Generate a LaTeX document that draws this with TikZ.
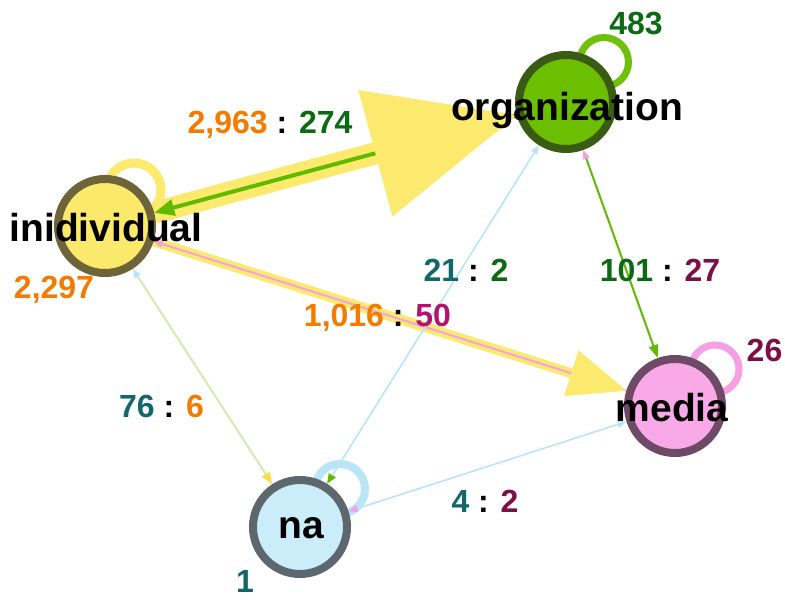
\documentclass[tikz,border=0pt]{standalone}
\usepackage{fontspec}
\setmainfont{Liberation Sans}
\usetikzlibrary{arrows.meta,calc,backgrounds}
\definecolor{indfill}{RGB}{251,233,108}
\definecolor{inddraw}{RGB}{110,100,58}
\definecolor{orgfill}{RGB}{108,190,0}
\definecolor{orgdraw}{RGB}{58,92,18}
\definecolor{medfill}{RGB}{249,169,232}
\definecolor{meddraw}{RGB}{110,74,102}
\definecolor{nafill}{RGB}{203,237,249}
\definecolor{nadraw}{RGB}{92,104,110}
\definecolor{yel}{RGB}{252,234,110}
\definecolor{yeltip}{RGB}{250,224,70}
\definecolor{grn}{RGB}{96,186,0}
\definecolor{grnloop}{RGB}{110,192,10}
\definecolor{pnk}{RGB}{245,160,228}
\definecolor{lblue}{RGB}{184,230,246}
\definecolor{cor}{RGB}{245,123,0}
\definecolor{cdg}{RGB}{12,106,20}
\definecolor{cteal}{RGB}{16,104,104}
\definecolor{cmar}{RGB}{126,15,70}
\definecolor{cmag}{RGB}{180,18,110}
\tikzset{
  vert/.style={circle, minimum size=94pt, inner sep=0pt, line width=8pt},
  vlabel/.style={font=\fontsize{39}{45}\selectfont\bfseries, inner sep=0pt, anchor=base, text=black},
  num/.style={font=\fontsize{32}{38}\selectfont\bfseries, inner sep=0pt, anchor=base, text=black},
}
\begin{document}
\begin{tikzpicture}[x=1pt,y=-1pt]
\useasboundingbox (0,0) rectangle (785,601);
% vertices
\node[vert, fill=indfill, draw=inddraw] (ind) at (105,226) {};
\node[vert, fill=orgfill, draw=orgdraw] (org) at (566,102) {};
\node[vert, fill=medfill, draw=meddraw] (med) at (675,406) {};
\node[vert, fill=nafill, draw=nadraw] (na) at (300,527) {};
\begin{scope}[on background layer]
  \fill[white] (0,0) rectangle (785,601);
  % self loops
  \draw[yel, line width=9pt] ($(ind.center)+(29,-36)$) circle[radius=27];
  \draw[grnloop, line width=7pt] ($(org.center)+(38,-40)$) circle[radius=24.5];
  \draw[pnk, line width=7pt] ($(med.center)+(40,-37)$) circle[radius=24];
  \draw[lblue, line width=8pt] ($(na.center)+(40,-38)$) circle[radius=25];
  % individual -> organization (big)
  \coordinate (B1) at ($(ind.center)!280pt!(org.center)$);
  \coordinate (B1L) at ($(B1)!65.5pt!90:(org.center)$);
  \coordinate (B1R) at ($(B1)!65.5pt!-90:(org.center)$);
  \coordinate (T1) at ($(org.center)!51pt!(ind.center)$);
  \draw[yel, line width=22pt] (ind) -- (B1);
  \draw[grn, line width=4pt, -{Triangle[length=20pt,width=16pt]}] (org) -- (ind);
  \fill[yel] (B1L) -- (T1) -- (B1R) -- cycle;
  % individual -> media
  \coordinate (B2) at ($(ind.center)!489pt!(med.center)$);
  \coordinate (B2L) at ($(B2)!24pt!90:(med.center)$);
  \coordinate (B2R) at ($(B2)!24pt!-90:(med.center)$);
  \coordinate (T2) at ($(med.center)!51pt!(ind.center)$);
  \draw[yel, line width=10pt] (ind) -- (B2);
  \draw[pnk, line width=2pt, -{Triangle[length=9pt,width=7pt]}] (med) -- (ind);
  \fill[yel] (B2L) -- (T2) -- (B2R) -- cycle;
  % organization <-> media
  \draw[grn, line width=2pt, {Triangle[length=9pt,width=7pt,color=pnk]}-{Triangle[length=13pt,width=9pt]}] (org) -- (med);
  % na <-> organization
  \draw[lblue, line width=1.6pt, {Triangle[length=10pt,width=8pt,color=grn]}-{Triangle[length=9pt,width=7pt]}] (na) -- (org);
  % individual <-> na
  \draw[lblue, line width=2pt, {Triangle[length=9pt,width=7pt]}-{Triangle[length=12pt,width=9pt,color=yeltip]}] (ind) -- (na);
  \draw[yel, line width=0.9pt, shorten <=9pt, shorten >=12pt] (ind) -- (na);
  % na <-> media
  \draw[lblue, line width=1.6pt, {Triangle[length=9pt,width=7pt,color=pnk]}-{Triangle[length=9pt,width=7pt]}] (na) -- (med);
\end{scope}
% vertex labels
\node[vlabel] (indL) at (106,242) {inidividual};
\node[vlabel] (orgL) at (567,121) {organization};
\node[vlabel] (medL) at (672,422) {media};
\node[vlabel] (naL) at (301,538) {na};
% number labels
\node[num] (n1) at (270,134) {\textcolor{cor}{2,963} : \textcolor{cdg}{274}};
\node[num] (n2) at (54,299) {\textcolor{cor}{2,297}};
\node[num] (n3) at (636,35) {\textcolor{cdg}{483}};
\node[num] (n4) at (764.5,362) {\textcolor{cmar}{26}};
\node[num] (n5) at (660,282) {\textcolor{cdg}{101} : \textcolor{cmar}{27}};
\node[num] (n6) at (466,282) {\textcolor{cteal}{21} : \textcolor{cdg}{2}};
\node[num] (n7) at (377.5,327) {\textcolor{cor}{1,016} : \textcolor{cmag}{50}};
\node[num] (n8) at (161.5,418) {\textcolor{cteal}{76} : \textcolor{cor}{6}};
\node[num] (n9) at (485,513) {\textcolor{cteal}{4} : \textcolor{cmar}{2}};
\node[num] (n10) at (245,592) {\textcolor{cteal}{1}};
\end{tikzpicture}
\end{document}
